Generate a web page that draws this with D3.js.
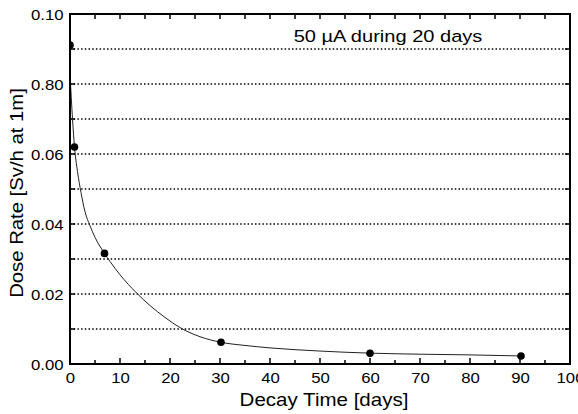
<!DOCTYPE html>
<html><head><meta charset="utf-8">
<script src="https://cdn.jsdelivr.net/npm/d3@7"></script>
<style>body{margin:0;background:#fff}svg{display:block;font-family:"Liberation Sans",Arial,sans-serif}</style>
</head><body><svg id="c" width="578" height="414"></svg>
<script>
const pointDays = [0, 0.9, 6.9, 30.2, 60, 90.2];
const pointDose = [0.0911, 0.062, 0.0316, 0.0062, 0.00305, 0.0023];
const curveDays = [0, 0.5, 0.9, 1.5, 2.2, 3, 4, 5, 6.9, 8, 10, 13.3, 16, 19, 22, 26, 30.2, 35, 40, 50, 60, 70, 80, 90.2];
const curveDose = [0.083, 0.070, 0.062, 0.055, 0.049, 0.0435, 0.0395, 0.0362, 0.0316, 0.0293, 0.0255, 0.0203, 0.0167, 0.0133, 0.0104, 0.0078, 0.0062, 0.0053, 0.0046, 0.0037, 0.0031, 0.0028, 0.0026, 0.0023];
const yTickValues = [0, 0.02, 0.04, 0.06, 0.08, 0.10];
const yTickLabels = ["0.00", "0.02", "0.04", "0.06", "0.80", "0.10"];
const xTickValues = [0, 10, 20, 30, 40, 50, 60, 70, 80, 90, 100];
const gridValues = [0.01, 0.02, 0.03, 0.04, 0.05, 0.06, 0.07, 0.08, 0.09];
const titleText = "50 \u00b5A during 20 days";
const xTitle = "Decay Time [days]";
const yTitle = "Dose Rate [Sv/h at 1m]";

const L = 70, R = 570, T = 14, B = 364;
const svg = d3.select("#c");
const x = d3.scaleLinear().domain([0, 100]).range([L, R]);
const y = d3.scaleLinear().domain([0, 0.10]).range([B, T]);

svg.append("defs").append("clipPath").attr("id", "clip")
  .append("rect").attr("x", L).attr("y", T).attr("width", R - L).attr("height", B - T);

// grid
svg.append("g").selectAll("line").data(gridValues).join("line")
  .attr("x1", L).attr("x2", R).attr("y1", d => y(d)).attr("y2", d => y(d))
  .attr("stroke", "#000").attr("stroke-width", 1.3).attr("stroke-dasharray", "1.5,2.2");

const minor = d3.range(0, 101, 5);
const yMinor = d3.range(0, 0.1001, 0.01);
const gx = svg.append("g").attr("transform", `translate(0,${B})`)
  .call(d3.axisBottom(x).tickValues(xTickValues).tickSize(0).tickPadding(8));
gx.select(".domain").remove();
gx.selectAll("text").attr("font-size", 15.5).attr("fill", "#000")
  .attr("font-family", "Liberation Sans, Arial, sans-serif").attr("transform", "scale(1.08,1)");

const gy = svg.append("g").attr("transform", `translate(${L},0)`)
  .call(d3.axisLeft(y).tickValues(yTickValues).tickFormat((d, i) => yTickLabels[i]).tickSize(0).tickPadding(6));
gy.select(".domain").remove();
gy.selectAll("text").attr("font-size", 15.5).attr("fill", "#000")
  .attr("font-family", "Liberation Sans, Arial, sans-serif").attr("dy", "0.36em").attr("transform", "scale(1.08,1)");

const tk = svg.append("g").attr("stroke", "#000").attr("stroke-width", 1.5);
tk.selectAll(".bt").data(minor).join("line").attr("class", "bt")
  .attr("x1", d => x(d)).attr("x2", d => x(d)).attr("y1", B).attr("y2", d => B - (d % 10 === 0 ? 6 : 4));
tk.selectAll(".tt").data(minor).join("line").attr("class", "tt")
  .attr("x1", d => x(d)).attr("x2", d => x(d)).attr("y1", T).attr("y2", T + 5);
tk.selectAll(".lt").data(yMinor).join("line").attr("class", "lt")
  .attr("x1", L).attr("x2", L + 5).attr("y1", d => y(d)).attr("y2", d => y(d));
tk.selectAll(".rt").data(yMinor).join("line").attr("class", "rt")
  .attr("x1", R).attr("x2", R - 5).attr("y1", d => y(d)).attr("y2", d => y(d));

// curve
const line = d3.line().x(d => x(d[0])).y(d => y(d[1])).curve(d3.curveMonotoneX);
svg.append("path").datum(curveDays.map((d, i) => [d, curveDose[i]]))
  .attr("d", line).attr("fill", "none").attr("stroke", "#222").attr("stroke-width", 1)
  .attr("clip-path", "url(#clip)");

// points
svg.append("g").attr("clip-path", "url(#clip)").selectAll("circle")
  .data(pointDays.map((d, i) => [d, pointDose[i]])).join("circle")
  .attr("cx", d => x(d[0])).attr("cy", d => y(d[1])).attr("r", 3.8).attr("fill", "#000");

// frame
svg.append("rect").attr("x", L).attr("y", T).attr("width", R - L).attr("height", B - T)
  .attr("fill", "none").attr("stroke", "#000").attr("stroke-width", 2);

// texts (horizontally stretched like the reference)
svg.append("text").attr("transform", "translate(388,42) scale(1.18,1)").attr("text-anchor", "middle")
  .attr("font-size", 17).text(titleText);
svg.append("text").attr("transform", `translate(${(L + R) / 2 + 4},406) scale(1.16,1)`).attr("text-anchor", "middle")
  .attr("font-size", 17.7).text(xTitle);
svg.append("text").attr("transform", `translate(23,${(T + B) / 2 + 4}) rotate(-90) scale(1.16,1)`)
  .attr("text-anchor", "middle").attr("font-size", 17.5).text(yTitle);
</script></body></html>
